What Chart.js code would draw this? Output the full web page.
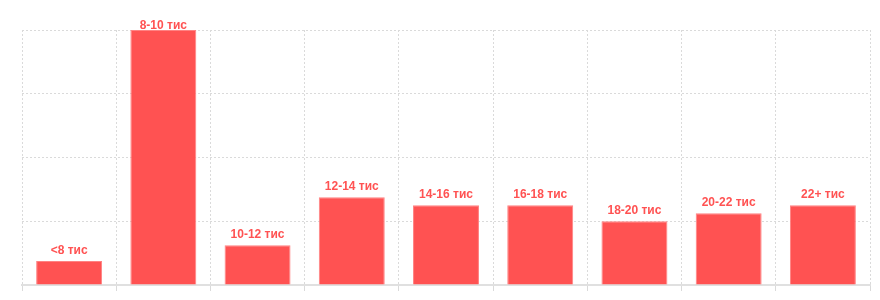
<!DOCTYPE html>
<html>
<head>
<meta charset="utf-8">
<script src="https://cdn.jsdelivr.net/npm/chart.js@4.4.0/dist/chart.umd.min.js"></script>
<style>
html,body{margin:0;padding:0;background:#fff;}
#wrap{width:880px;height:300px;position:relative;}
</style>
</head>
<body>
<div id="wrap"><canvas id="c"></canvas></div>
<script>
const categories = ["<8 тис","8-10 тис","10-12 тис","12-14 тис","14-16 тис","16-18 тис","18-20 тис","20-22 тис","22+ тис"];
const values = [3, 32, 5, 11, 10, 10, 8, 9, 10];
const yMax = 32;
const yStep = 8;

const barLabels = {
  id: 'barLabels',
  afterDatasetsDraw(chart) {
    const ctx = chart.ctx;
    const meta = chart.getDatasetMeta(0);
    ctx.save();
    ctx.font = 'bold 12px "Liberation Sans", Arial, sans-serif';
    ctx.fillStyle = '#ff5252';
    ctx.textAlign = 'center';
    ctx.textBaseline = 'alphabetic';
    meta.data.forEach((bar, i) => {
      let y = bar.y - 7;
      y = Math.max(y, chart.chartArea.top - 1);
      ctx.fillText(categories[i], bar.x, y);
    });
    ctx.restore();
  }
};

new Chart(document.getElementById('c'), {
  type: 'bar',
  data: {
    labels: categories,
    datasets: [{
      data: values,
      backgroundColor: '#ff5252',
      borderColor: 'rgba(255,130,130,1)',
      borderWidth: 1,
      categoryPercentage: 0.7,
      barPercentage: 1.0
    }]
  },
  options: {
    responsive: true,
    maintainAspectRatio: false,
    animation: false,
    layout: { padding: { left: 22, right: 10, top: 30, bottom: 9 } },
    plugins: { legend: { display: false }, tooltip: { enabled: false } },
    scales: {
      x: {
        ticks: { display: false },
        grid: { color: '#dadada', tickLength: 6, drawTicks: true, offset: true, tickBorderDash: [] },
        border: { display: true, color: '#e0e0e0', width: 2, dash: [2,2] }
      },
      y: {
        min: 0, max: yMax,
        ticks: { display: false, stepSize: yStep },
        grid: { color: '#dadada', drawTicks: false },
        border: { display: false, dash: [2,2] }
      }
    }
  },
  plugins: [barLabels]
});
</script>
</body>
</html>
